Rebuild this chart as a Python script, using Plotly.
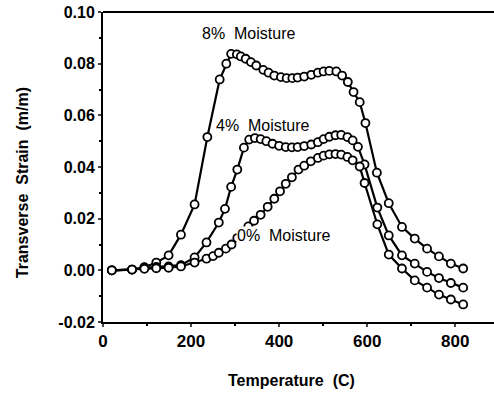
import plotly.graph_objects as go

temp_8 = [20, 66, 94, 121, 149, 177, 208, 237, 265, 280, 291, 304, 313, 324, 336, 348, 364, 376, 389, 404,
          417, 430, 442, 457, 473, 488, 501, 514, 530, 543, 556, 569, 583, 596, 622, 649, 679, 708, 736, 763, 790, 818]
strain_8 = [0.0, 0.0003, 0.0012, 0.0030, 0.0058, 0.0138, 0.0255, 0.0516, 0.0739, 0.0800, 0.0838, 0.0836, 0.0828,
            0.0819, 0.0806, 0.0793, 0.0776, 0.0765, 0.0754, 0.0748, 0.0744, 0.0744, 0.0746, 0.0750, 0.0757, 0.0765,
            0.0770, 0.0772, 0.0770, 0.0754, 0.0729, 0.0690, 0.0651, 0.0570, 0.0378, 0.0260, 0.0168, 0.0123, 0.0084,
            0.0054, 0.0026, 0.0007]

temp_4 = [20, 66, 94, 121, 149, 177, 208, 235, 263, 277, 291, 305, 320, 332, 345, 358, 371, 385, 400, 415, 429,
          442, 457, 473, 488, 501, 514, 528, 541, 555, 567, 579, 594, 623, 649, 679, 708, 736, 763, 790, 818]
strain_4 = [0.0, 0.0003, 0.0010, 0.0013, 0.0015, 0.0020, 0.0050, 0.0108, 0.0185, 0.0238, 0.0323, 0.0390, 0.0475,
            0.0506, 0.0512, 0.0508, 0.0500, 0.0490, 0.0482, 0.0477, 0.0476, 0.0477, 0.0481, 0.0487, 0.0496, 0.0508,
            0.0517, 0.0523, 0.0524, 0.0516, 0.0503, 0.0478, 0.0410, 0.0243, 0.0135, 0.0058, 0.0026, -0.0006,
            -0.0030, -0.0049, -0.0067]

temp_0 = [20, 66, 94, 121, 149, 177, 208, 235, 250, 263, 279, 292, 305, 318, 330, 343, 358, 374, 389, 402, 415,
          429, 444, 457, 472, 488, 501, 514, 528, 541, 555, 567, 583, 594, 623, 649, 679, 708, 736, 763, 790, 818]
strain_0 = [0.0, 0.0003, 0.0006, 0.0008, 0.0010, 0.0015, 0.0030, 0.0045, 0.0055, 0.0068, 0.0084, 0.0100, 0.0125,
            0.0150, 0.0170, 0.0192, 0.0215, 0.0246, 0.0277, 0.0306, 0.0335, 0.0360, 0.0390, 0.0405, 0.0422, 0.0435,
            0.0444, 0.0449, 0.0450, 0.0448, 0.0439, 0.0426, 0.0402, 0.0338, 0.0178, 0.0061, 0.0007, -0.0039,
            -0.0067, -0.0094, -0.0113, -0.0132]

x_ticks = [0, 200, 400, 600, 800]
y_ticks = [-0.02, 0.00, 0.02, 0.04, 0.06, 0.08, 0.10]
y_tick_text = ["-0.02", "0.00", "0.02", "0.04", "0.06", "0.08", "0.10"]

series = [("8% Moisture", temp_8, strain_8), ("4% Moisture", temp_4, strain_4), ("0% Moisture", temp_0, strain_0)]

fig = go.Figure()
for name, xs, ys in series:
    fig.add_trace(go.Scatter(
        x=xs, y=ys, mode="lines+markers", name=name,
        line=dict(color="black", width=2.2),
        marker=dict(symbol="circle", size=8, color="white", line=dict(color="black", width=1.8)),
        showlegend=False,
    ))

FONT = "Liberation Sans, Arial, sans-serif"

fig.update_layout(
    width=494, height=396,
    margin=dict(l=103, r=0, t=12, b=74),
    paper_bgcolor="white", plot_bgcolor="white",
    font=dict(family=FONT, color="black"),
    xaxis=dict(range=[0, 888], tickvals=x_ticks, ticks="outside", ticklen=3, tickwidth=1.5,
               showline=True, linecolor="black", linewidth=2, mirror=False, showgrid=False, zeroline=False,
               tickfont=dict(size=17, family=FONT, weight="bold"),
               minor=dict(dtick=100, ticks="outside", ticklen=2, tickcolor="black")),
    yaxis=dict(range=[-0.02, 0.10], tickvals=y_ticks, ticktext=y_tick_text, ticks="outside", ticklen=3,
               tickwidth=1.5, showline=True, linecolor="black", linewidth=2, showgrid=False, zeroline=False,
               tickfont=dict(size=16, family=FONT, weight="bold"),
               minor=dict(dtick=0.01, ticks="outside", ticklen=2, tickcolor="black")),
    shapes=[dict(type="line", xref="paper", yref="paper", x0=0, x1=1, y0=1, y1=1,
                 line=dict(color="black", width=2))],
    annotations=[
        dict(text="Temperature  (C)", xref="paper", yref="paper", x=0.483, y=-0.19, showarrow=False,
             font=dict(size=16, family=FONT, weight="bold"), xanchor="center", yanchor="middle"),
        dict(text="Transverse  Strain  (m/m)", xref="paper", yref="paper", x=-0.207, y=0.448, showarrow=False,
             textangle=-90, font=dict(size=16, family=FONT, weight="bold"), xanchor="center", yanchor="middle"),
        dict(text="8%  Moisture", x=330, y=0.0915, showarrow=False,
             font=dict(size=16, family=FONT, weight=500), xanchor="center", yanchor="middle"),
        dict(text="4%  Moisture", x=363, y=0.0560, showarrow=False,
             font=dict(size=16, family=FONT, weight=500), xanchor="center", yanchor="middle"),
        dict(text="0%  Moisture", x=410, y=0.0135, showarrow=False,
             font=dict(size=16, family=FONT, weight=500), xanchor="center", yanchor="middle", bgcolor="white",
             borderpad=0),
    ],
)

fig.write_html("out.html")
